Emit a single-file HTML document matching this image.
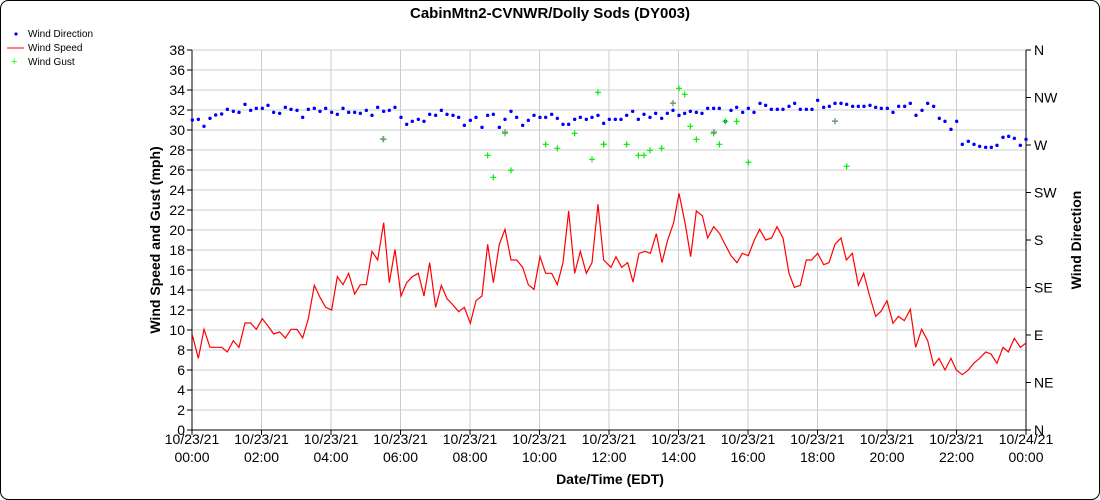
<!DOCTYPE html>
<html><head><meta charset="utf-8"><style>
body{margin:0;background:#fff}
svg{display:block;font-family:"Liberation Sans",Arial,sans-serif}
</style></head><body>
<svg id="s" width="1100" height="500" xmlns="http://www.w3.org/2000/svg">
<rect x="0.5" y="0.5" width="1099" height="499" rx="8" fill="#fff" stroke="#000"/>
<text x="550" y="18" text-anchor="middle" font-size="15" font-weight="bold">CabinMtn2-CVNWR/Dolly Sods (DY003)</text>
<g font-size="10">
<circle cx="16" cy="34" r="1.6" fill="#00f"/><text x="28" y="37">Wind Direction</text>
<line x1="7" y1="48" x2="24" y2="48" stroke="#f00"/><text x="28" y="51">Wind Speed</text>
<text x="11" y="65" fill="#0f0" font-size="11">+</text><text x="28" y="65">Wind Gust</text>
</g>
<g id="grid"></g>
<g transform="translate(185 80) scale(0.33333)">
<polyline fill="none" stroke="#f00" stroke-width="1.2" vector-effect="non-scaling-stroke" points="22,765 40,835 57,748 75,802 92,802 110,802 127,816 145,782 162,802 180,729 197,729 214,748 232,716 249,738 266,762 284,756 301,774 318,748 336,748 353,774 370,716 388,616 405,652 422,682 440,690 457,590 474,614 491,580 509,642 526,614 544,614 561,514 578,540 596,428 613,608 630,508 648,648 665,608 682,590 700,580 717,648 734,548 752,682 769,616 786,656 804,675 821,695 838,682 856,730 873,662 891,648 908,493 925,608 943,493 960,448 978,540 995,540 1013,562 1030,614 1047,628 1065,530 1082,580 1100,580 1117,614 1134,548 1151,393 1169,580 1186,514 1204,580 1221,548 1239,373 1256,540 1278,562 1293,530 1310,562 1328,548 1344,606 1362,520 1380,514 1396,520 1414,461 1431,548 1448,480 1466,428 1482,340 1500,428 1517,530 1534,393 1552,407 1568,474 1586,440 1604,461 1620,493 1638,527 1656,548 1672,520 1690,527 1708,480 1724,448 1742,480 1760,474 1776,440 1794,474 1812,580 1828,622 1846,616 1864,540 1880,540 1898,520 1916,554 1932,548 1950,493 1968,474 1984,540 2002,520 2020,616 2036,580 2054,648 2072,709 2088,694 2106,662 2124,730 2140,709 2158,722 2176,688 2192,802 2210,748 2228,782 2246,856 2262,835 2280,870 2298,835 2314,870 2332,884 2350,870 2366,850 2384,835 2402,816 2418,822 2436,850 2454,802 2470,816 2488,775 2506,802 2522,790"/>
</g>
<g id="pts"></g>
<g id="lab" font-size="14"></g>
<text x="610" y="484" text-anchor="middle" font-size="14" font-weight="bold">Date/Time (EDT)</text>
<text transform="translate(160 240) rotate(-90)" text-anchor="middle" font-size="14" font-weight="bold">Wind Speed and Gust (mph)</text>
<text transform="translate(1081 240) rotate(-90)" text-anchor="middle" font-size="14" font-weight="bold">Wind Direction</text>
</svg>
<script>
var NS="http://www.w3.org/2000/svg";
function el(p,t,a,txt){var e=document.createElementNS(NS,t);for(var k in a)e.setAttribute(k,a[k]);if(txt!=null)e.textContent=txt;document.getElementById(p).appendChild(e);return e;}
var L=192,R=1026,T=50,B=430;
for(var v=0;v<=38;v+=2){var y=B-v*10;
 el("grid","line",{x1:L,x2:R,y1:y,y2:y,stroke:"#ccc"});
 el("grid","line",{x1:L-5,x2:L,y1:y,y2:y,stroke:"#000"});
 el("lab","text",{x:L-7,y:y+5,"text-anchor":"end"},v);}
for(var h=0;h<=24;h+=2){var x=L+h*(R-L)/24;
 el("grid","line",{x1:x,x2:x,y1:T,y2:B,stroke:"#ccc"});
 el("grid","line",{x1:x,x2:x,y1:B,y2:B+5,stroke:"#000"});
 var d=h==24?"10/24/21":"10/23/21",hh=h==24?"00:00":(h<10?"0":"")+h+":00";
 el("lab","text",{x:x,y:444,"text-anchor":"middle"},d);
 el("lab","text",{x:x,y:462,"text-anchor":"middle"},hh);}
var dirs=["N","NE","E","SE","S","SW","W","NW","N"];
for(var i=0;i<9;i++){var y=B-i*47.5;
 el("grid","line",{x1:R,x2:R+5,y1:y,y2:y,stroke:"#000"});
 el("lab","text",{x:R+8,y:y+5},dirs[i]);}
el("grid","line",{x1:L,x2:L,y1:T,y2:B,stroke:"#000"});
el("grid","line",{x1:R,x2:R,y1:T,y2:B,stroke:"#000"});
el("grid","line",{x1:L,x2:R,y1:B,y2:B,stroke:"#000"});
var d1=[22,120,40,118,57,139,75,115,92,105,110,102,127,88,145,94,162,97,180,73,197,91,214,85,232,85,249,76,266,97,284,100,301,82,318,88,336,91,353,112,370,88,388,85,405,94,422,85,440,97,457,103,474,85,491,97,509,97,526,100,544,91,561,106,578,82,596,94,613,91,630,82,648,112,665,133,682,124,700,118,717,124,734,103,752,106,769,91,786,103,804,106,821,112,838,136,856,121,873,112,891,142,908,106,925,103,943,142,960,118,978,94,995,112,1013,136,1030,121,1047,106,1065,112,1082,112,1100,103,1117,115,1134,133,1151,133,1169,118,1186,112,1204,118,1221,112,1239,106,1256,130];
var d2=[28,118,46,118,63,118,80,106,98,94,115,118,132,103,150,112,167,100,185,115,202,100,219,91,237,106,254,100,271,94,289,97,306,100,323,85,341,85,358,85,376,124,393,91,410,82,428,97,445,85,462,97,480,70,497,76,514,88,532,88,549,88,567,79,584,70,601,88,619,88,636,88,653,61,671,82,688,79,705,70,723,70,740,73,758,79,775,79,792,79,810,76,827,82,844,85,862,85,879,97,896,79,914,79,931,70,948,106,966,91,983,70,1001,79,1018,115,1035,124,1053,148,1070,124,1087,193,1105,184,1122,193,1139,199,1157,202,1174,202,1191,196,1209,172,1226,169,1243,175,1261,196,1278,178];
var g1=[596,178,908,226,925,292,960,160,978,271,1082,193,1117,205,1169,160,1221,238,1239,37,1256,193];
var g2=[11,193,80,193,115,226,132,226,150,211,185,205,219,70,237,25,254,43,271,139,289,178,341,160,358,193,376,124,410,124,445,247,705,124,740,259];
function plus(x,y,c){el("pts","path",{d:"M"+(x-3)+" "+y+"h6M"+x+" "+(y-3)+"v6",stroke:c,"stroke-width":1.2,fill:"none"});}
for(var i=0;i<d1.length;i+=2)el("pts","circle",{cx:185+d1[i]/3,cy:80+d1[i+1]/3,r:1.7,fill:"#00f"});
for(var i=0;i<d2.length;i+=2)el("pts","circle",{cx:600+d2[i]/3,cy:80+d2[i+1]/3,r:1.7,fill:"#00f"});
for(var i=0;i<g1.length;i+=2)plus(185+g1[i]/3,80+g1[i+1]/3,"#0e0");
for(var i=0;i<g2.length;i+=2)plus(600+g2[i]/3,80+g2[i+1]/3,"#0e0");
[[383,139],[505,132],[714,132],[835,121],[673,103]].forEach(function(p){plus(p[0],p[1],"#888");});
</script>
</body></html>
